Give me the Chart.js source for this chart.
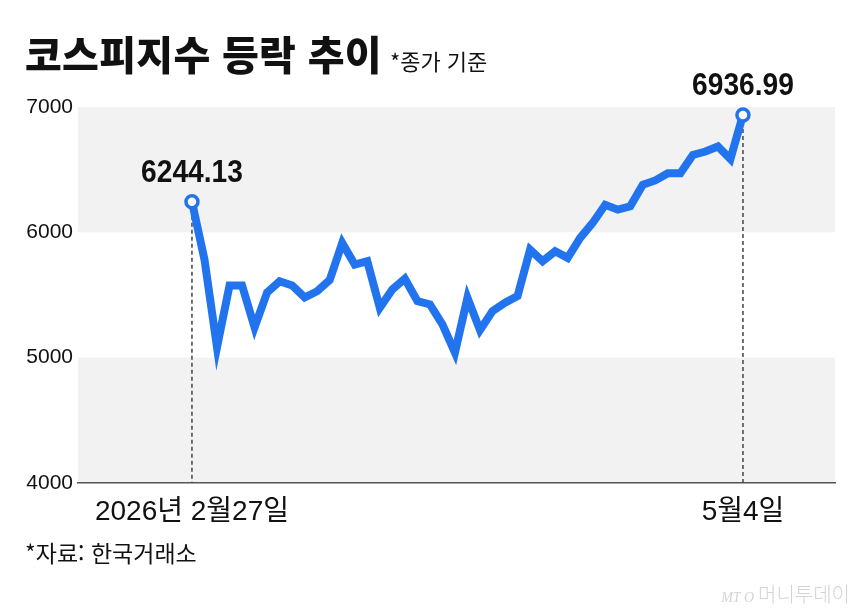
<!DOCTYPE html>
<html lang="ko">
<head>
<meta charset="utf-8">
<title>코스피지수 등락 추이</title>
<script src="https://cdn.jsdelivr.net/npm/chart.js@4.4.1/dist/chart.umd.min.js"></script>
<style>
  html, body { margin: 0; padding: 0; background: #fff; }
  #wrap { position: relative; width: 860px; height: 612px; overflow: hidden; }
  #canvas { position: absolute; left: 0; top: 0; }
  .title { position: absolute; left: 25px; top: 33px; line-height: 1; white-space: nowrap;
           font-family: "Noto Sans CJK KR", sans-serif; font-weight: 900; font-size: 40px; color: #111; letter-spacing: 0.3px; }
  .title small { font-weight: 400; font-size: 22px; letter-spacing: 0; margin-left: 8px; }
  .source { position: absolute; left: 25px; top: 541px; line-height: 1; white-space: nowrap;
            font-family: "Noto Sans CJK KR", sans-serif; font-size: 23px; color: #111; }
  .logo { position: absolute; right: 10px; top: 584px; line-height: 1; white-space: nowrap;
          font-family: "Noto Sans CJK KR", sans-serif; font-weight: 300; font-size: 20px; color: #d4d4d4; }
  .logo i { font-family: "Liberation Serif", serif; font-size: 14px; margin-right: 4px; }
</style>
</head>
<body>
<div id="wrap">
  <canvas id="canvas" width="860" height="612"></canvas>
  <div class="title">코스피지수 등락 추이<small>*종가 기준</small></div>
  <div class="source">*자료: 한국거래소</div>
  <div class="logo"><i>MT O</i>머니투데이</div>
</div>
<script>
// 거래일 (2026.2.27 ~ 5.4)
var dates = ["2/27","3/3","3/4","3/5","3/6","3/9","3/10","3/11","3/12","3/13",
             "3/16","3/17","3/18","3/19","3/20","3/23","3/24","3/25","3/26","3/27",
             "3/30","3/31","4/1","4/2","4/3","4/6","4/7","4/8","4/9","4/10",
             "4/13","4/14","4/15","4/16","4/17","4/20","4/21","4/22","4/23","4/24",
             "4/27","4/28","4/29","4/30","5/4"];
// 코스피 종가
var kospi = [6244.13,5783,5083,5576,5576,5242,5520,5610,5576,5480,
             5530,5620,5915,5743,5770,5398,5544,5630,5452,5425,
             5266,5040,5478,5220,5372,5438,5491,5862,5770,5849,
             5796,5955,6075,6220,6181,6208,6380,6414,6472,6472,
             6618,6645,6685,6584,6936.99];
var xTickLabels = ["2026년 2월27일", "5월4일"];
var yTicks = [4000, 5000, 6000, 7000];

var BLUE = "#2274ee";
var last = kospi.length - 1;

// 회색 띠 (4000~5000, 6000~7000)
var bandPlugin = {
    id: "bands",
    beforeDraw: function(chart) {
        var ctx = chart.ctx, area = chart.chartArea, y = chart.scales.y;
        ctx.save();
        ctx.fillStyle = "#f2f2f2";
        for (var i = 0; i < yTicks.length - 1; i += 2) {
            var top = y.getPixelForValue(yTicks[i + 1]);
            var bot = y.getPixelForValue(yTicks[i]);
            ctx.fillRect(area.left, top, area.right - area.left, bot - top);
        }
        ctx.restore();
    }
};

// 시작/끝 점선 + 값 표시
var markPlugin = {
    id: "marks",
    beforeDatasetsDraw: function(chart) {
        var ctx = chart.ctx, area = chart.chartArea;
        var pts = chart.getDatasetMeta(0).data;
        ctx.save();
        ctx.strokeStyle = "#444";
        ctx.lineWidth = 1.5;
        ctx.setLineDash([4, 3]);
        [0, last].forEach(function(i) {
            ctx.beginPath();
            ctx.moveTo(pts[i].x, pts[i].y);
            ctx.lineTo(pts[i].x, area.bottom);
            ctx.stroke();
        });
        ctx.restore();
    },
    afterDatasetsDraw: function(chart) {
        var ctx = chart.ctx;
        var pts = chart.getDatasetMeta(0).data;
        ctx.save();
        ctx.fillStyle = "#111";
        ctx.font = "bold 32px 'Liberation Sans', sans-serif";
        ctx.textAlign = "center";
        ctx.textBaseline = "alphabetic";
        [0, last].forEach(function(i) {
            // 좁은 글꼴 느낌으로 가로 압축
            ctx.save();
            ctx.translate(pts[i].x, pts[i].y - 20);
            ctx.scale(0.88, 1);
            ctx.fillText(kospi[i].toFixed(2), 0, 0);
            ctx.restore();
        });
        ctx.restore();
    }
};

var ctx = document.getElementById("canvas").getContext("2d");
var config = {
    type: "line",
    data: {
        labels: dates,
        datasets: [{
            data: kospi.map(function(v, i) { return { x: i, y: v }; }),
            borderColor: BLUE,
            borderWidth: 8,
            borderJoinStyle: "miter",
            borderCapStyle: "butt",
            tension: 0,
            fill: false,
            clip: false,
            pointRadius: function(c) { return (c.dataIndex === 0 || c.dataIndex === last) ? 6 : 0; },
            pointBackgroundColor: "#fff",
            pointBorderColor: BLUE,
            pointBorderWidth: 3.5
        }]
    },
    options: {
        responsive: false,
        animation: false,
        devicePixelRatio: 1,
        layout: { padding: { left: 0, top: 107, right: 25, bottom: 79 } },
        plugins: { legend: { display: false }, tooltip: { enabled: false } },
        scales: {
            x: {
                type: "linear",
                min: -9.1,
                max: 51.35,
                grid: { display: false },
                border: { display: true, color: "#555", width: 1.5 },
                afterBuildTicks: function(s) { s.ticks = [{ value: 0 }, { value: last }]; },
                afterFit: function(s) { s.height = 50; },
                ticks: {
                    autoSkip: false,
                    maxRotation: 0,
                    padding: 4,
                    color: "#111",
                    font: { family: "'Liberation Sans', 'Noto Sans CJK KR', sans-serif", size: 28 },
                    callback: function(v) { return v === 0 ? xTickLabels[0] : xTickLabels[1]; }
                }
            },
            y: {
                min: yTicks[0],
                max: yTicks[yTicks.length - 1],
                grid: { display: false, drawTicks: false },
                border: { display: false },
                afterBuildTicks: function(s) { s.ticks = yTicks.map(function(v) { return { value: v }; }); },
                afterFit: function(s) { s.width = 78; },
                ticks: {
                    padding: 5,
                    color: "#111",
                    font: { family: "'Liberation Sans', sans-serif", size: 21 },
                    callback: function(v) { return String(v); }
                }
            }
        }
    },
    plugins: [bandPlugin, markPlugin]
};
var kospiChart = new Chart(ctx, config);
</script>
</body>
</html>
